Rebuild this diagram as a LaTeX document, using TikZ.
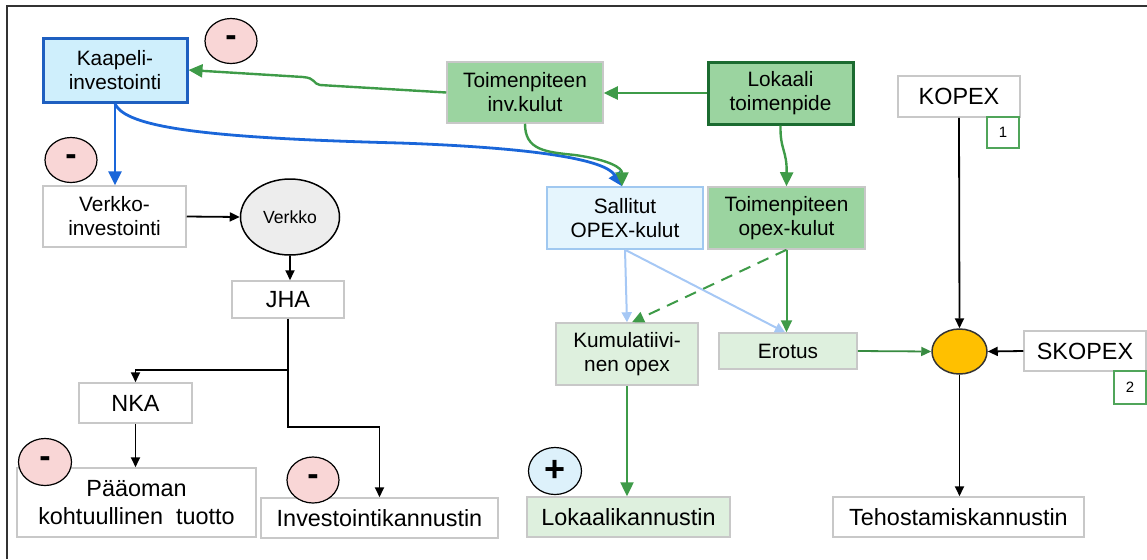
\documentclass[tikz,border=0pt]{standalone}
\usepackage{fontspec}
\setmainfont{Liberation Sans}
\usetikzlibrary{arrows.meta,shapes.geometric}
\definecolor{boxgray}{RGB}{200,200,200}
\definecolor{medgreen}{RGB}{155,212,160}
\definecolor{ltgreen}{RGB}{222,240,222}
\definecolor{salfill}{RGB}{229,245,253}
\definecolor{salborder}{RGB}{160,200,240}
\definecolor{kapfill}{RGB}{207,239,252}
\definecolor{kapborder}{RGB}{30,95,192}
\definecolor{lokborder}{RGB}{27,107,48}
\definecolor{arrgreen}{RGB}{62,155,72}
\definecolor{arrblue}{RGB}{26,102,217}
\definecolor{arrltblue}{RGB}{166,200,245}
\definecolor{pinkfill}{RGB}{249,214,214}
\definecolor{plusfill}{RGB}{221,241,251}
\definecolor{orangefill}{RGB}{255,192,0}
\definecolor{framegray}{RGB}{50,50,50}
\definecolor{numgreen}{RGB}{80,165,90}
\newcommand{\fsN}{\fontsize{10.4pt}{12pt}\selectfont}
\newcommand{\fsB}{\fontsize{11.7pt}{14pt}\selectfont}
\begin{document}
\begin{tikzpicture}[x=0.5pt,y=-0.5pt,
  box/.style={draw=boxgray, line width=0.75pt, fill=white, inner sep=0pt, align=center, font=\fsN},
  bigbox/.style={box, font=\fsB},
  gbox/.style={box, fill=medgreen},
  lgbox/.style={box, fill=ltgreen},
  sign/.style={ellipse, draw=black, line width=0.6pt, fill=pinkfill, inner sep=0pt, minimum width=26pt, minimum height=22.5pt, font=\bfseries\fontsize{17pt}{17pt}\selectfont},
  numbox/.style={draw=numgreen, line width=0.6pt, fill=white, inner sep=0pt, font=\fontsize{7.5pt}{9pt}\selectfont, minimum width=16pt, minimum height=16pt},
  blk/.style={draw=black, line width=0.9pt, -{Triangle[length=5pt,width=4.5pt]}},
  grn/.style={draw=arrgreen, line width=1.2pt, -{Triangle[length=7pt,width=6.5pt]}},
  blu/.style={draw=arrblue, line width=1.4pt, -{Triangle[length=7pt,width=6.5pt]}},
  lblu/.style={draw=arrltblue, line width=1pt, -{Triangle[length=5pt,width=5pt]}}
]
\useasboundingbox (0,0) rectangle (1147,559);
\draw[framegray, line width=1pt] (7,559) -- (7,6) -- (1147,6);

% left part
\node[box, fill=kapfill, draw=kapborder, line width=1.5pt, minimum width=72pt, minimum height=32pt] (kaap) at (115,70) {Kaapeli-\\investointi};
\node[box, minimum width=71.5pt, minimum height=30.5pt] (vinv) at (114.5,216.5) {Verkko-\\investointi};
\node[ellipse, draw=black, line width=0.75pt, fill=black!7, inner sep=0pt, minimum width=49.5pt, minimum height=38pt, font=\fontsize{8.8pt}{10pt}\selectfont] (verkko) at (290,217) {Verkko};
\node[bigbox, minimum width=56pt, minimum height=18.5pt] (jha) at (288,299.5) {JHA};
\node[bigbox, minimum width=56.5pt, minimum height=20pt] (nka) at (135.5,403) {NKA};
\node[bigbox, minimum width=119.5pt, minimum height=34.5pt] (paa) at (136.5,502.5) {Pääoman\\kohtuullinen\ \ tuotto};
\node[bigbox, minimum width=118.5pt, minimum height=20pt] (inv) at (379.5,518) {Investointikannustin};
\node[sign] (m1) at (231,41) {-};
\node[sign] (m2) at (71,160) {-};
\node[sign, minimum width=26.5pt, minimum height=23.5pt] (m3) at (45,462) {-};
\node[sign, minimum width=26pt, minimum height=23pt] (m4) at (313,480) {-};

% middle part
\node[gbox, minimum width=78pt, minimum height=30.5pt] (invk) at (525,92.5) {Toimenpiteen\\inv.kulut};
\node[gbox, draw=lokborder, line width=1.5pt, minimum width=72.5pt, minimum height=31pt] (lok) at (780.5,93) {Lokaali\\toimenpide};
\node[box, fill=salfill, draw=salborder, minimum width=78pt, minimum height=31pt] (sal) at (625,218) {Sallitut\\OPEX-kulut};
\node[gbox, minimum width=78.5pt, minimum height=31pt] (opx) at (786.5,218) {Toimenpiteen\\opex-kulut};
\node[lgbox, minimum width=71pt, minimum height=31pt] (kum) at (627,354) {Kumulatiivi-\\nen opex};
\node[lgbox, minimum width=69pt, minimum height=18pt] (ero) at (788,351) {Erotus};
\node[lgbox, font=\fsB, minimum width=101.5pt, minimum height=20pt] (lkan) at (628.5,517) {Lokaalikannustin};
\node[sign, fill=plusfill, minimum width=26.5pt, minimum height=23.5pt, font=\bfseries\fontsize{18pt}{18pt}\selectfont] (plus) at (555,471) {+};

% right part
\node[bigbox, minimum width=61pt, minimum height=20.5pt] (kopex) at (959,96.5) {KOPEX};
\node[numbox, minimum height=15.5pt] (one) at (1003,132.5) {1};
\node[ellipse, draw=black!80, line width=0.75pt, fill=orangefill, inner sep=0pt, minimum width=27.5pt, minimum height=22.5pt] (orange) at (959.5,351.5) {};
\node[bigbox, minimum width=61pt, minimum height=20pt] (skopex) at (1085,351) {SKOPEX};
\node[numbox, minimum height=16.5pt] (two) at (1130,387.5) {2};
\node[bigbox, minimum width=125.5pt, minimum height=20pt] (teh) at (958.5,517) {Tehostamiskannustin};

% connectors left
\draw[blu] (kaap.south) -- (kaap.south |- vinv.north);
\draw[blk] (vinv.east) -- (verkko.west);
\draw[blk] (verkko.south) -- (verkko.south |- jha.north);
\draw[blk] (jha.south) -- ++(0,51) -| (nka.north);
\draw[blk] (jha.south) -- ++(0,108.5) -| (inv.north);
\draw[blk] (nka.south) -- (nka.south |- paa.north);

% connectors middle
\draw[grn] (lok.west) -- (lok.west -| invk.east);
\draw[grn] (invk.west) -- (320,85) .. controls (313,84) and (316,78) .. (303,77) -- (kaap.east);
\draw[blu] (kaap.south) .. controls (125,128) and (210,138) .. (400,143) .. controls (540,148) and (605,160) .. ([xshift=-1.5pt]sal.north);
\draw[grn] (invk.south) .. controls (525,150) and (545,152) .. (575,155) .. controls (610,160) and (622,168) .. ([xshift=-1.5pt]sal.north);
\draw[grn] (lok.south) .. controls (780,150) and (787,150) .. (opx.north);
\draw[lblu] (sal.south) -- (kum.north);
\draw[lblu] (sal.south) -- ([xshift=-1.5pt]ero.north);
\draw[grn, line width=1pt, -{Triangle[length=6pt,width=5.5pt]}] (opx.south) -- (opx.south |- ero.north);
\draw[grn, line width=1pt, dashed, dash pattern=on 6pt off 4pt, -{Triangle[length=6pt,width=5.5pt]}] (opx.south) -- ([xshift=2.5pt]kum.north);
\draw[grn] (kum.south) -- (kum.south |- lkan.north);
\draw[draw=arrgreen!90!black, line width=0.9pt, -{Triangle[length=5pt,width=4.5pt]}] (ero.east) -- (orange.west);

% connectors right
\draw[blk] (kopex.south) -- (orange.north);
\draw[blk] (skopex.west) -- (orange.east);
\draw[blk] (orange.south) -- (orange.south |- teh.north);
\end{tikzpicture}
\end{document}
